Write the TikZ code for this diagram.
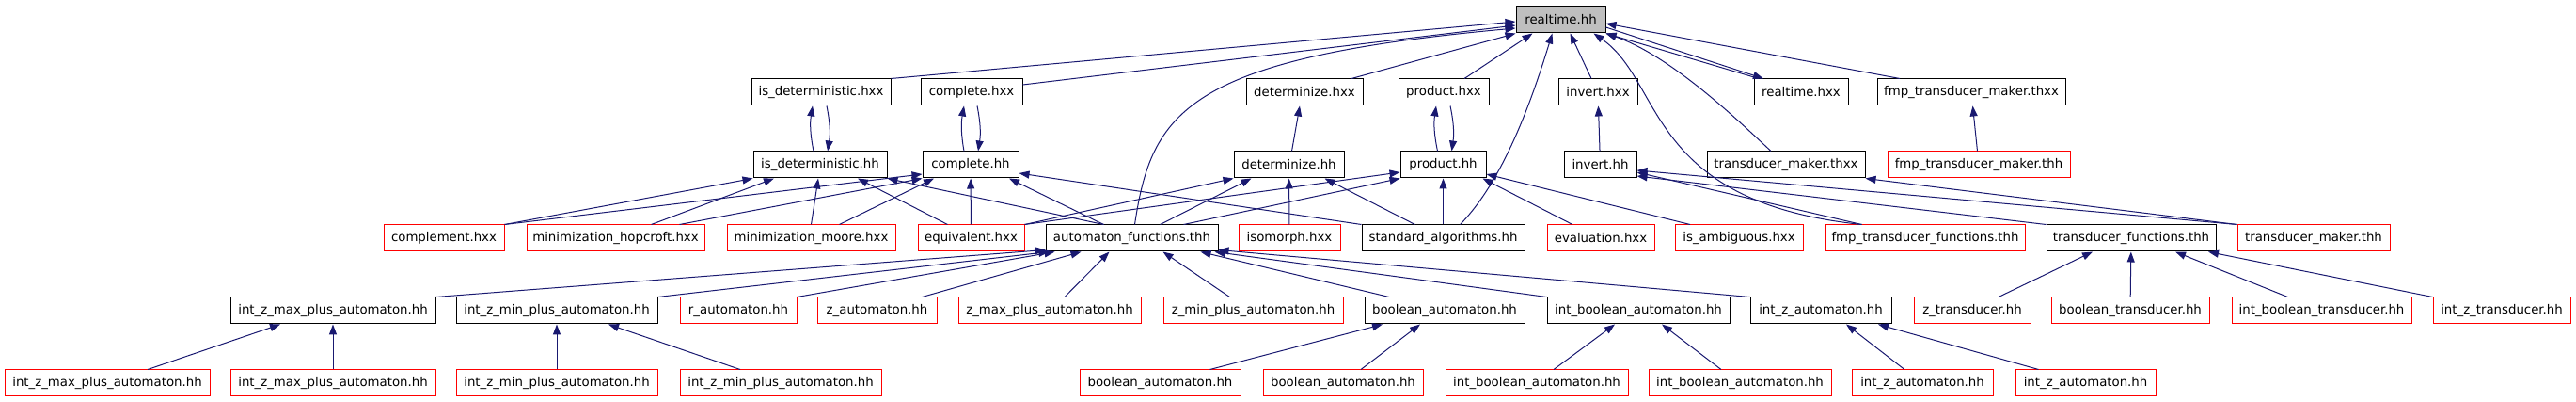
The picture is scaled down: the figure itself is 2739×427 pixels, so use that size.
\documentclass[tikz,border=0pt]{standalone}
\usepackage{fontspec}
\setmainfont{DejaVu Sans}
\usetikzlibrary{arrows.meta}
\definecolor{navy}{RGB}{25,25,112}
\definecolor{hdrgray}{RGB}{191,191,191}

\begin{document}
\begin{tikzpicture}[x=1pt, y=-1pt, >={Triangle[length=11pt, width=8pt]},
  font=\fontsize{13.3}{16}\selectfont,
  every node/.style={draw, line width=1pt, minimum height=28pt, inner sep=0pt},
  nodoc/.style={draw=red},
  edge/.style={->, draw=navy, fill=none, line width=1pt}]
\useasboundingbox (0,0) rectangle (2739,427);

% row 0
\node [fill=hdrgray, minimum width=95pt] (rt) at (1659.5,21) {realtime.hh};

% row 1
\node [minimum width=148pt] (isdx) at (873,98) {is\_deterministic.hxx};
\node [minimum width=108pt] (cplx) at (1033,98) {complete.hxx};
\node [minimum width=124pt] (detx) at (1387,98) {determinize.hxx};
\node [minimum width=96pt] (prodx) at (1535,98) {product.hxx};
\node [minimum width=84pt] (invx) at (1699,98) {invert.hxx};
\node [minimum width=100pt] (rtx) at (1915,98) {realtime.hxx};
\node [minimum width=200pt] (fmpmkx) at (2096,98) {fmp\_transducer\_maker.thxx};

% row 2
\node [minimum width=142pt] (isdh) at (872,175) {is\_deterministic.hh};
\node [minimum width=102pt] (cplh) at (1032,175) {complete.hh};
\node [minimum width=117pt] (deth) at (1370.5,175) {determinize.hh};
\node [minimum width=91pt] (prodh) at (1534.5,175) {product.hh};
\node [minimum width=77pt] (invh) at (1701.5,175) {invert.hh};
\node [minimum width=168pt] (tmkx) at (1899,175) {transducer\_maker.thxx};
\node [nodoc, minimum width=194pt] (fmpmkh) at (2104,175) {fmp\_transducer\_maker.thh};

% row 3
\node [nodoc, minimum width=128pt] (compl) at (472,253) {complement.hxx};
\node [nodoc, minimum width=189pt] (hop) at (654.5,253) {minimization\_hopcroft.hxx};
\node [nodoc, minimum width=179pt] (moore) at (862.5,253) {minimization\_moore.hxx};
\node [nodoc, minimum width=113pt] (equiv) at (1032.5,253) {equivalent.hxx};
\node [minimum width=183pt] (autf) at (1203.5,253) {automaton\_functions.thh};
\node [nodoc, minimum width=108pt] (iso) at (1371,253) {isomorph.hxx};
\node [minimum width=173pt] (stdalg) at (1534.5,253) {standard\_algorithms.hh};
\node [nodoc, minimum width=114pt] (eval) at (1702,253) {evaluation.hxx};
\node [nodoc, minimum width=136pt] (isamb) at (1849,253) {is\_ambiguous.hxx};
\node [nodoc, minimum width=212pt] (fmpfun) at (2047,253) {fmp\_transducer\_functions.thh};
\node [minimum width=180pt] (trfun) at (2266,253) {transducer\_functions.thh};
\node [nodoc, minimum width=162pt] (tmkh) at (2460,253) {transducer\_maker.thh};

% row 4
\node [minimum width=218pt] (izmax) at (354,330) {int\_z\_max\_plus\_automaton.hh};
\node [minimum width=214pt] (izmin) at (592,330) {int\_z\_min\_plus\_automaton.hh};
\node [nodoc, minimum width=124pt] (raut) at (785,330) {r\_automaton.hh};
\node [nodoc, minimum width=127pt] (zaut) at (932.5,330) {z\_automaton.hh};
\node [nodoc, minimum width=194pt] (zmax) at (1116,330) {z\_max\_plus\_automaton.hh};
\node [nodoc, minimum width=191pt] (zmin) at (1332.5,330) {z\_min\_plus\_automaton.hh};
\node [minimum width=170pt] (baut) at (1536,330) {boolean\_automaton.hh};
\node [minimum width=194pt] (ibaut) at (1742,330) {int\_boolean\_automaton.hh};
\node [minimum width=150pt] (izaut) at (1936,330) {int\_z\_automaton.hh};
\node [nodoc, minimum width=124pt] (ztr) at (2097,330) {z\_transducer.hh};
\node [nodoc, minimum width=168pt] (btr) at (2265,330) {boolean\_transducer.hh};
\node [nodoc, minimum width=191pt] (ibtr) at (2468.5,330) {int\_boolean\_transducer.hh};
\node [nodoc, minimum width=146pt] (iztr) at (2660,330) {int\_z\_transducer.hh};

% row 5
\node [nodoc, minimum width=218pt] (izmaxa) at (114,407) {int\_z\_max\_plus\_automaton.hh};
\node [nodoc, minimum width=218pt] (izmaxb) at (354,407) {int\_z\_max\_plus\_automaton.hh};
\node [nodoc, minimum width=214pt] (izmina) at (592,407) {int\_z\_min\_plus\_automaton.hh};
\node [nodoc, minimum width=214pt] (izminb) at (830,407) {int\_z\_min\_plus\_automaton.hh};
\node [nodoc, minimum width=171pt] (bauta) at (1233.5,407) {boolean\_automaton.hh};
\node [nodoc, minimum width=170pt] (bautb) at (1428,407) {boolean\_automaton.hh};
\node [nodoc, minimum width=194pt] (ibauta) at (1634,407) {int\_boolean\_automaton.hh};
\node [nodoc, minimum width=194pt] (ibautb) at (1850,407) {int\_boolean\_automaton.hh};
\node [nodoc, minimum width=150pt] (izauta) at (2044,407) {int\_z\_automaton.hh};
\node [nodoc, minimum width=149pt] (izautb) at (2217.5,407) {int\_z\_automaton.hh};

% row 1 -> realtime.hh
\draw[edge] (isdx.north east) -- ([yshift=-2]rt.west);
\draw[edge] ([yshift=8]cplx.east) -- ([yshift=-6]rt.west);
\draw[edge] ([xshift=50]detx.north) -- (rt.south west);
\draw[edge] ([xshift=22]prodx.north) -- ([xshift=-30]rt.south);
\draw[edge] ([xshift=-7]invx.north) -- ([xshift=10]rt.south);
\draw[edge] ([xshift=-45]rtx.north) -- (rt.south east);
\draw[edge] ([yshift=-8]rt.east) -- ([xshift=-40]rtx.north);
\draw[edge] ([xshift=-76]fmpmkx.north) -- ([yshift=-4]rt.east);

% row 2 <-> row 1
\draw[edge] ([xshift=-7]isdh.north) to[bend left=10] ([xshift=-9]isdx.south);
\draw[edge] ([xshift=6]isdx.south) to[bend left=10] ([xshift=8]isdh.north);
\draw[edge] ([xshift=-7]cplh.north) to[bend left=10] ([xshift=-8]cplx.south);
\draw[edge] ([xshift=6]cplx.south) to[bend left=10] ([xshift=8]cplh.north);
\draw[edge] ([xshift=3]deth.north) -- ([xshift=-5]detx.south);
\draw[edge] ([xshift=-6]prodh.north) to[bend left=10] ([xshift=-8]prodx.south);
\draw[edge] ([xshift=7]prodx.south) to[bend left=10] ([xshift=9]prodh.north);
\draw[edge] (invh) -- (invx);
\draw[edge] (fmpmkh) -- (fmpmkx);

% curves up to realtime.hh
\draw[edge] ([xshift=-16]tmkx.north) .. controls +(-23,-21) and +(73,25) .. (rt.south east);
\draw[edge] ([xshift=39]fmpfun.north west) .. controls +(-230,-24) and +(75,52) .. ([xshift=35]rt.south);
\draw[edge] ([xshift=3]autf.north) .. controls +(18,-119) and +(-352,32) .. ([yshift=-9]rt.west);
\draw[edge] ([xshift=18]stdalg.north) .. controls +(48,-49) and +(-20,65) .. ([xshift=-9]rt.south);

% row 3 -> row 2
\draw[edge] (compl.north east) -- (isdh.south west);
\draw[edge] ([xshift=38]hop.north) -- ([xshift=-49]isdh.south);
\draw[edge] (moore.north) -- ([xshift=-2]isdh.south);
\draw[edge] ([xshift=-25]equiv.north) -- ([xshift=40]isdh.south);
\draw[edge] ([xshift=-30]autf.north) -- (isdh.south east);
\draw[edge] (compl.north east) -- ([yshift=-10]cplh.west);
\draw[edge] ([xshift=68]hop.north) -- (cplh.south west);
\draw[edge] ([xshift=30]moore.north) -- ([xshift=-39]cplh.south);
\draw[edge] (equiv) -- (cplh);
\draw[edge] ([xshift=-30]autf.north) -- ([xshift=41]cplh.south);
\draw[edge] (stdalg.north west) -- ([yshift=-9]cplh.east);
\draw[edge] (equiv.north east) -- (deth.south west);
\draw[edge] ([xshift=30]autf.north) -- ([xshift=-40]deth.south);
\draw[edge] (iso) -- (deth);
\draw[edge] ([xshift=-30]stdalg.north) -- ([xshift=38]deth.south);
\draw[edge] (equiv.north east) -- ([yshift=-8]prodh.west);
\draw[edge] ([xshift=55]autf.north) -- (prodh.south west);
\draw[edge] (stdalg) -- (prodh);
\draw[edge] ([xshift=-30]eval.north) -- ([xshift=42]prodh.south);
\draw[edge] ([xshift=-52]isamb.north) -- ([yshift=-10]prodh.east);
\draw[edge] ([xshift=39]fmpfun.north west) -- ([yshift=-8]invh.east);
\draw[edge] (trfun.north west) -- ([yshift=-12]invh.east);
\draw[edge] (tmkh.north west) -- ([yshift=-6]invh.east);
\draw[edge] (tmkh.north west) -- (tmkx.south east);

% row 4 -> row 3
\draw[edge] (izmax.north east) -- ([yshift=2]autf.south west);
\draw[edge] (izmin.north east) -- ([xshift=4]autf.south west);
\draw[edge] (raut.north east) -- ([xshift=10]autf.south west);
\draw[edge] ([xshift=48]zaut.north) -- ([xshift=-54]autf.south);
\draw[edge] ([xshift=16]zmax.north) -- ([xshift=-24]autf.south);
\draw[edge] ([xshift=-25]zmin.north) -- ([xshift=33]autf.south);
\draw[edge] ([xshift=-59]baut.north) -- ([xshift=73]autf.south);
\draw[edge] (ibaut.north west) -- ([xshift=-4]autf.south east);
\draw[edge] (izaut.north west) -- ([yshift=2]autf.south east);
\draw[edge] ([xshift=28]ztr.north) -- ([xshift=-41]trfun.south);
\draw[edge] (btr) -- (trfun);
\draw[edge] ([xshift=-36]ibtr.north) -- ([xshift=47]trfun.south);
\draw[edge] (iztr.north west) -- ([xshift=82]trfun.south);

% row 5 -> row 4
\draw[edge] ([xshift=43]izmaxa.north) -- ([xshift=-56]izmax.south);
\draw[edge] (izmaxb) -- (izmax);
\draw[edge] (izmina) -- (izmin);
\draw[edge] ([xshift=-43]izminb.north) -- ([xshift=55]izmin.south);
\draw[edge] ([xshift=53]bauta.north) -- ([xshift=-66]baut.south);
\draw[edge] ([xshift=19]bautb.north) -- ([xshift=-26]baut.south);
\draw[edge] ([xshift=18]ibauta.north) -- ([xshift=-25]ibaut.south);
\draw[edge] ([xshift=-20]ibautb.north) -- ([xshift=25]ibaut.south);
\draw[edge] ([xshift=-19]izauta.north) -- ([xshift=27]izaut.south);
\draw[edge] ([xshift=-50]izautb.north) -- ([xshift=61]izaut.south);
\end{tikzpicture}
\end{document}
